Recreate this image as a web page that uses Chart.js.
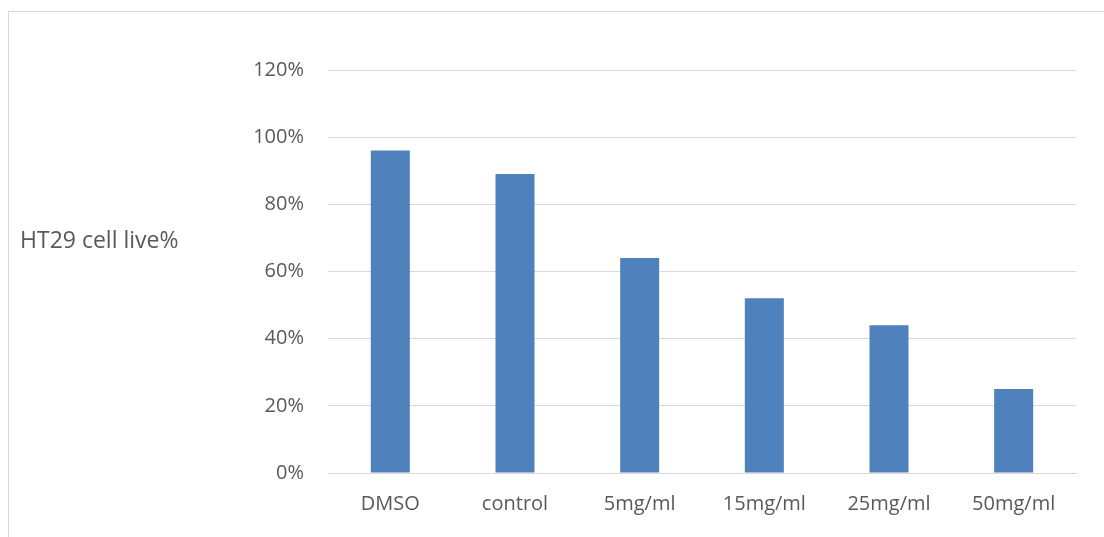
<!DOCTYPE html>
<html>
<head>
<meta charset="utf-8">
<script src="https://cdn.jsdelivr.net/npm/chart.js@4/dist/chart.umd.min.js"></script>
<style>
  html, body { margin: 0; padding: 0; background: #fff; overflow: hidden; }
  #frame { position: absolute; left: 8px; top: 11px; width: 1200px; height: 600px; border: 1px solid #d9d9d9; }
  #wrap { position: absolute; left: 0; top: 0; width: 1104px; height: 537px; }
</style>
</head>
<body>
<div id="frame"></div>
<div id="wrap"><canvas id="graph"></canvas></div>
<script>
const categories = ['DMSO', 'control', '5mg/ml', '15mg/ml', '25mg/ml', '50mg/ml'];
const liveValues = [0.96, 0.89, 0.64, 0.52, 0.44, 0.25];
const yTicks = [0, 0.2, 0.4, 0.6, 0.8, 1.0, 1.2];
const yTitle = 'HT29 cell live%';

const textColor = '#595959';

// horizontal axis title like the office chart
const sideTitle = {
  id: 'sideTitle',
  afterDraw (chart) {
    const ctx = chart.ctx;
    ctx.save();
    ctx.font = '23px "Open Sans"';
    ctx.fillStyle = textColor;
    ctx.textAlign = 'left';
    ctx.textBaseline = 'middle';
    ctx.fillText(yTitle, 20, 241);
    ctx.restore();
  }
};

const ctx = document.getElementById('graph').getContext('2d');

new Chart(ctx, {
  type: 'bar',
  data: {
    labels: categories,
    datasets: [{
      label: yTitle,
      data: liveValues,
      backgroundColor: '#4F81BD',
      barPercentage: 0.313,
      categoryPercentage: 1
    }]
  },
  options: {
    responsive: true,
    maintainAspectRatio: false,
    animation: false,
    layout: {
      padding: { left: 0, right: 28, top: 70, bottom: 0 }
    },
    scales: {
      x: {
        grid: { display: false, drawTicks: false },
        border: { display: true, color: '#d9d9d9', width: 1 },
        ticks: {
          color: textColor,
          font: { family: 'Open Sans', size: 20 },
          padding: 19,
          maxRotation: 0
        },
        afterFit (s) { s.height = 64; }
      },
      y: {
        min: 0,
        max: 1.2,
        afterBuildTicks (s) { s.ticks = yTicks.map(v => ({ value: v })); },
        grid: { color: '#d9d9d9', drawTicks: false, lineWidth: 1 },
        border: { display: false },
        ticks: {
          color: textColor,
          font: { family: 'Open Sans', size: 20 },
          padding: 24,
          callback: v => Math.round(v * 100) + '%'
        },
        afterFit (s) { s.width = 328; }
      }
    },
    plugins: {
      legend: { display: false },
      tooltip: { enabled: false }
    }
  },
  plugins: [sideTitle]
});
</script>
</body>
</html>
